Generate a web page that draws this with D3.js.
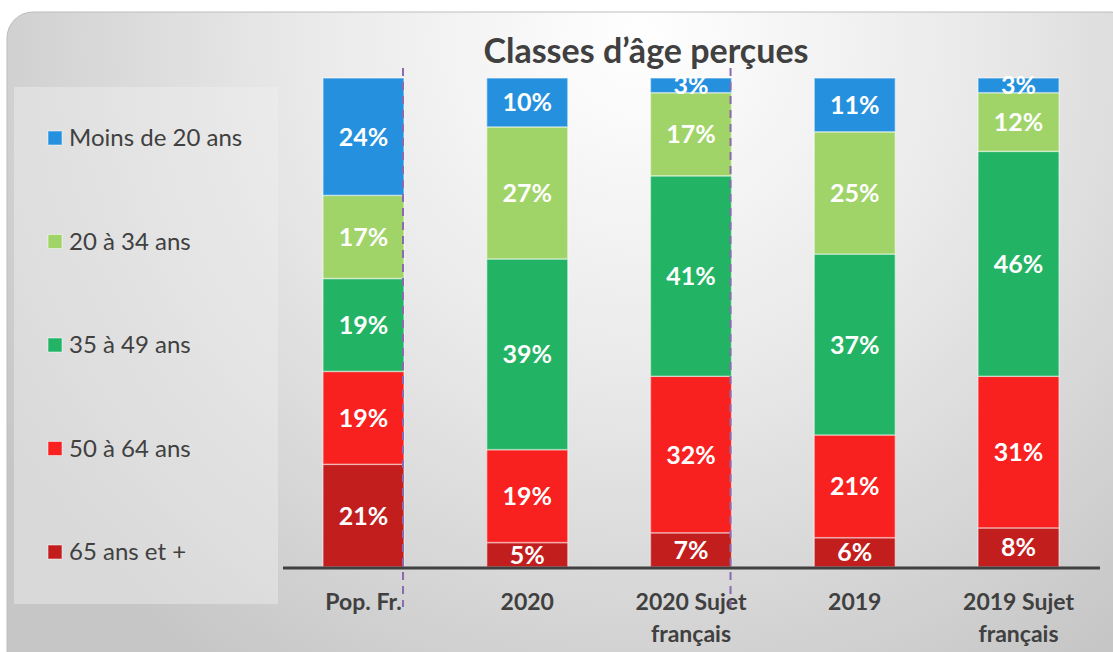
<!DOCTYPE html>
<html lang="fr">
<head>
<meta charset="utf-8">
<title>Classes d'âge perçues</title>
<script src="https://d3js.org/d3.v7.min.js"></script>
<style>
    body { margin: 0; background: #fff; }
    svg { display: block; font-family: Lato, "Open Sans", sans-serif; }
    .seg-label { fill: #fff; font-weight: bold; font-size: 25px; text-anchor: middle; }
    .cat-label { fill: #404040; font-weight: bold; font-size: 23px; text-anchor: middle; }
    .legend-text { fill: #404040; font-size: 24px; }
    .title { fill: #404040; font-weight: bold; font-size: 34px; text-anchor: middle; }
</style>
</head>
<body>
<div id="chart"></div>
<script>
// categories (x axis)
var categories = [["Pop. Fr."], ["2020"], ["2020 Sujet", "français"], ["2019"], ["2019 Sujet", "français"]];
var catKeys = ["Pop. Fr.", "2020", "2020 Sujet français", "2019", "2019 Sujet français"];

// series, bottom to top of the stack
var seriesNames = ["65 ans et +", "50 à 64 ans", "35 à 49 ans", "20 à 34 ans", "Moins de 20 ans"];
var seriesColors = ["#c21e1e", "#f92020", "#22b464", "#a0d468", "#2490de"];

var age65plus = [21, 5, 7, 6, 8];
var age50to64 = [19, 19, 32, 21, 31];
var age35to49 = [19, 39, 41, 37, 46];
var age20to34 = [17, 27, 17, 25, 12];
var ageUnder20 = [24, 10, 3, 11, 3];
var seriesValues = [age65plus, age50to64, age35to49, age20to34, ageUnder20];

// dashed separators drawn after these categories
var separatorsAfter = ["Pop. Fr.", "2020 Sujet français"];

var w = 1113, h = 652;

var svg = d3.select("#chart").append("svg")
    .attr("width", w)
    .attr("height", h);

// background panel with soft gradient
var defs = svg.append("defs");
var grad = defs.append("radialGradient")
    .attr("id", "bg")
    .attr("gradientUnits", "userSpaceOnUse")
    .attr("cx", 640).attr("cy", 40).attr("r", 760);
grad.append("stop").attr("offset", "0").attr("stop-color", "#ffffff");
grad.append("stop").attr("offset", "0.45").attr("stop-color", "#e9e9e9");
grad.append("stop").attr("offset", "1").attr("stop-color", "#c6c6c6");

svg.append("rect")
    .attr("x", 7).attr("y", 12)
    .attr("width", 1130).attr("height", 680)
    .attr("rx", 26)
    .attr("fill", "url(#bg)")
    .attr("stroke", "#bdbdbd")
    .attr("stroke-width", 1);

// legend box
svg.append("rect")
    .attr("x", 14).attr("y", 87)
    .attr("width", 264).attr("height", 517)
    .attr("fill", "#f0f0f0")
    .attr("opacity", 0.45);

// scales
var x = d3.scaleBand()
    .domain(catKeys)
    .range([283, 1099])
    .paddingInner(0.505)
    .paddingOuter(0.244);

var y = d3.scaleLinear()
    .domain([0, 100])
    .range([567, 78]);

// stack data
var table = catKeys.map(function (c, i) {
    var row = { cat: c };
    seriesNames.forEach(function (s, j) { row[s] = seriesValues[j][i]; });
    return row;
});
var stacked = d3.stack().keys(seriesNames)(table);

var layers = svg.selectAll("g.layer")
    .data(stacked)
    .enter()
    .append("g")
    .attr("class", "layer")
    .attr("fill", function (d, i) { return seriesColors[i]; });

layers.selectAll("rect")
    .data(function (d) { return d; })
    .enter()
    .append("rect")
    .attr("x", function (d) { return x(d.data.cat); })
    .attr("y", function (d) { return y(d[1]); })
    .attr("width", x.bandwidth())
    .attr("height", function (d) { return y(d[0]) - y(d[1]); })
    .attr("stroke", "rgba(255,255,255,0.45)")
    .attr("stroke-width", 1.5);

// value labels
layers.selectAll("text")
    .data(function (d) { return d; })
    .enter()
    .append("text")
    .attr("class", "seg-label")
    .attr("x", function (d) { return x(d.data.cat) + x.bandwidth() / 2; })
    .attr("y", function (d) { return (y(d[0]) + y(d[1])) / 2; })
    .attr("dy", "0.36em")
    .text(function (d) { return (d[1] - d[0]) + "%"; });

// baseline
svg.append("line")
    .attr("x1", 283).attr("x2", 1100)
    .attr("y1", y(0) + 1).attr("y2", y(0) + 1)
    .attr("stroke", "#404040")
    .attr("stroke-width", 3);

// category labels
svg.selectAll("text.cat-label")
    .data(categories)
    .enter()
    .append("text")
    .attr("class", "cat-label")
    .attr("x", function (d, i) { return x(catKeys[i]) + x.bandwidth() / 2; })
    .attr("y", 610)
    .each(function (d) {
        var t = d3.select(this);
        d.forEach(function (line, k) {
            t.append("tspan")
                .attr("x", t.attr("x"))
                .attr("dy", k === 0 ? 0 : 32)
                .text(line);
        });
    });

// dashed separators
svg.selectAll("line.sep")
    .data(separatorsAfter)
    .enter()
    .append("line")
    .attr("class", "sep")
    .attr("x1", function (d) { return x(d) + x.bandwidth() - 1; })
    .attr("x2", function (d) { return x(d) + x.bandwidth() - 1; })
    .attr("y1", 68)
    .attr("y2", 607)
    .attr("stroke", "#8a6bb0")
    .attr("stroke-width", 2)
    .attr("stroke-dasharray", "8,6");

// legend (top to bottom: reverse of stack order)
var legendItems = seriesNames.slice().reverse();
var legendColors = seriesColors.slice().reverse();
var legend = svg.selectAll("g.legend")
    .data(legendItems)
    .enter()
    .append("g")
    .attr("class", "legend")
    .attr("transform", function (d, i) { return "translate(48," + (138 + i * 103.5) + ")"; });

legend.append("rect")
    .attr("x", 0).attr("y", -7)
    .attr("width", 14).attr("height", 14)
    .attr("fill", function (d, i) { return legendColors[i]; })
    .attr("stroke", "rgba(255,255,255,0.5)");

legend.append("text")
    .attr("class", "legend-text")
    .attr("x", 21)
    .attr("dy", "0.35em")
    .text(function (d) { return d; });

// title
svg.append("text")
    .attr("class", "title")
    .attr("x", 646)
    .attr("y", 63)
    .text("Classes d’âge perçues");
</script>
</body>
</html>
